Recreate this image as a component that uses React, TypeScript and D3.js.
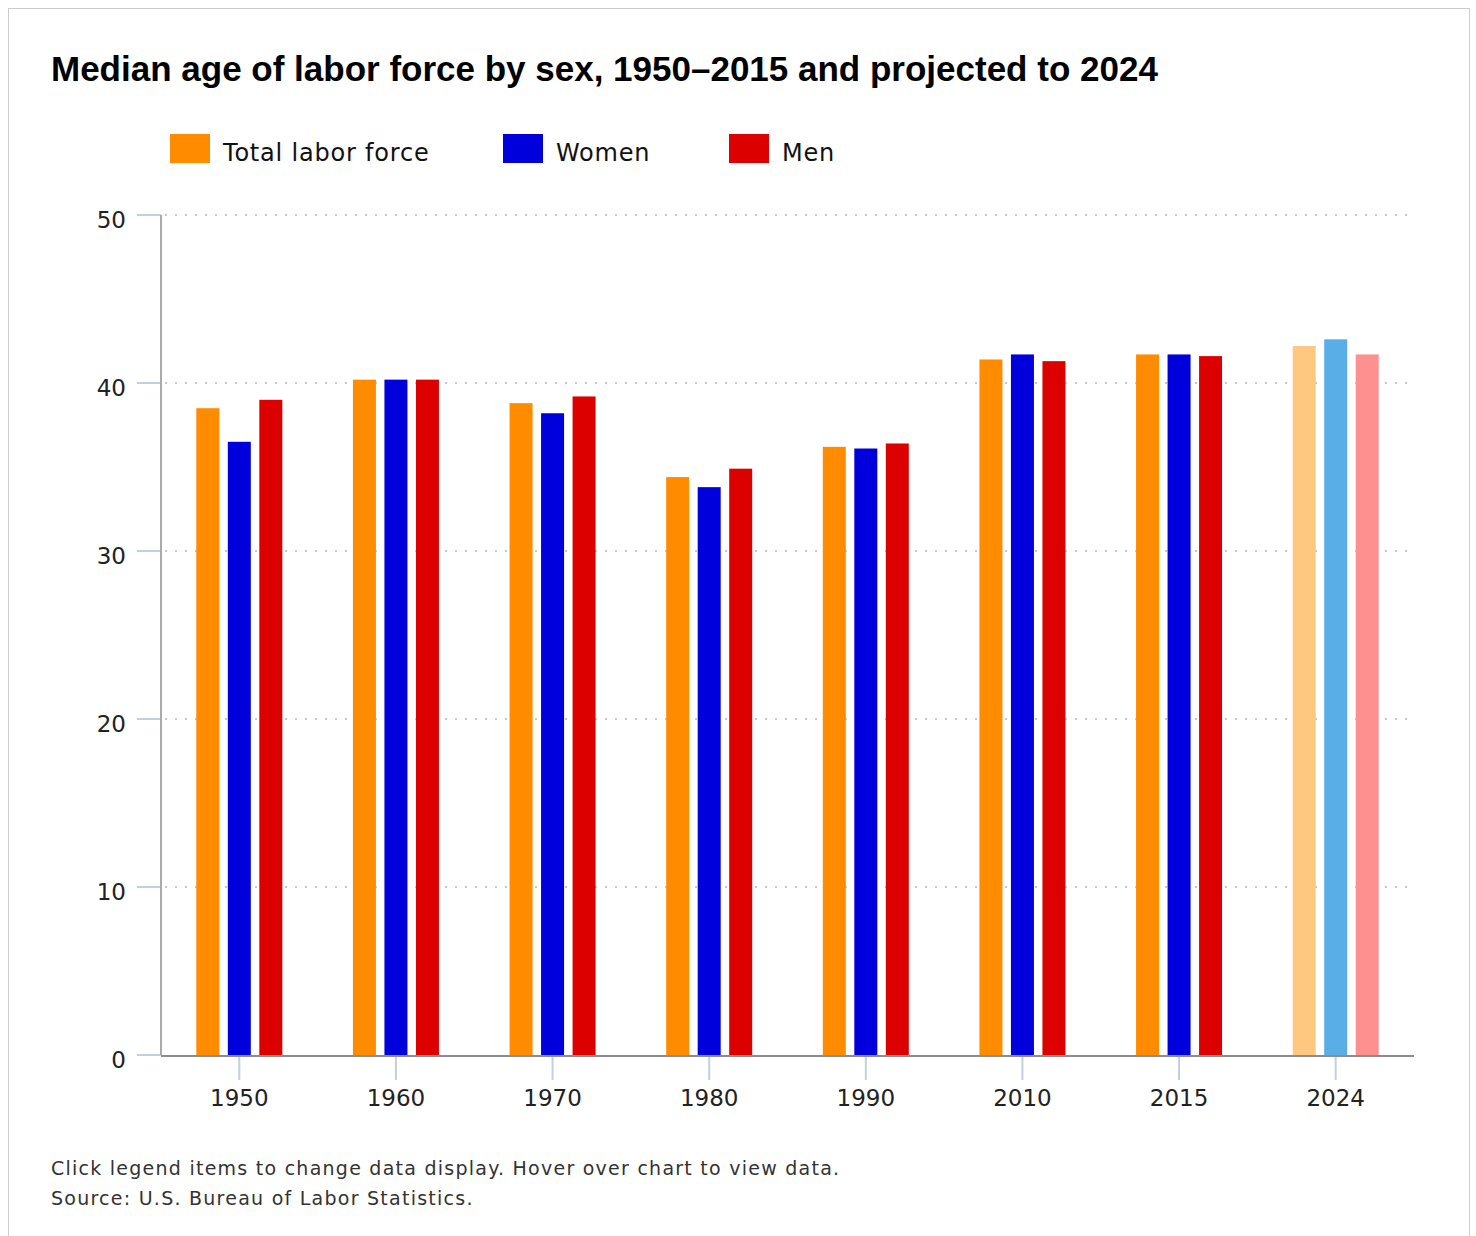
import React, { useEffect, useRef } from 'react';
import * as d3 from 'd3';

const years = ['1950', '1960', '1970', '1980', '1990', '2010', '2015', '2024'];
const seriesNames = ['Total labor force', 'Women', 'Men'];
const totalValues = [38.5, 40.2, 38.8, 34.4, 36.2, 41.4, 41.7, 42.2];
const womenValues = [36.5, 40.2, 38.2, 33.8, 36.1, 41.7, 41.7, 42.6];
const menValues = [39.0, 40.2, 39.2, 34.9, 36.4, 41.3, 41.6, 41.7];
const yTicks = [0, 10, 20, 30, 40, 50];
const projectedYear = '2024';

const colors = ['#ff8c00', '#0000dd', '#dd0000'];
const projectedColors = ['#ffc880', '#5aaee8', '#ff9090'];

export default function App() {
    const svgRef = useRef<SVGSVGElement>(null);

    useEffect(() => {
        if (!svgRef.current) return;
        const svg = d3.select(svgRef.current);
        svg.selectAll('*').remove();

        const plot = { left: 161, right: 1414, top: 215, bottom: 1055 };
        const tickFont = '"DejaVu Sans", Verdana, sans-serif';

        // outer frame
        svg.append('rect')
            .attr('x', 8.5).attr('y', 8.5)
            .attr('width', 1461).attr('height', 1260)
            .attr('fill', '#fff')
            .attr('stroke', '#cccccc');

        svg.append('text')
            .attr('x', 51).attr('y', 81)
            .attr('font-family', '"Liberation Sans", Arial, sans-serif')
            .attr('font-weight', 'bold')
            .attr('font-size', 35)
            .attr('fill', '#000')
            .text('Median age of labor force by sex, 1950–2015 and projected to 2024');

        // legend
        const legendX = [170, 503, 729];
        seriesNames.forEach((name, i) => {
            const lg = svg.append('g').attr('transform', `translate(${legendX[i]},0)`);
            lg.append('rect').attr('x', 0).attr('y', 134).attr('width', 40).attr('height', 29).attr('fill', colors[i]);
            lg.append('text')
                .attr('x', 53).attr('y', 161)
                .attr('font-family', tickFont)
                .attr('font-size', 24)
                .attr('letter-spacing', 0.8)
                .attr('fill', '#111')
                .text(name);
        });

        const x = d3.scaleBand().domain(years).range([plot.left, plot.right]).padding(0);
        const inner = d3.scaleBand().domain(seriesNames).range([-43, 43]).paddingInner(0.27);
        const y = d3.scaleLinear().domain([0, 50]).range([plot.bottom, plot.top]);

        // gridlines
        svg.append('g')
            .selectAll('line')
            .data(yTicks.filter(t => t > 0))
            .enter()
            .append('line')
            .attr('x1', 165).attr('x2', 1410)
            .attr('y1', d => y(d)).attr('y2', d => y(d))
            .attr('stroke', '#c8c8c8')
            .attr('stroke-width', 2)
            .attr('stroke-dasharray', '2,8');

        // y axis ticks + labels
        const yAxis = svg.append('g');
        yAxis.selectAll('line')
            .data(yTicks)
            .enter()
            .append('line')
            .attr('x1', 137).attr('x2', plot.left)
            .attr('y1', d => y(d)).attr('y2', d => y(d))
            .attr('stroke', '#c0d0e0')
            .attr('stroke-width', 2);
        yAxis.selectAll('text')
            .data(yTicks)
            .enter()
            .append('text')
            .attr('x', 126)
            .attr('y', d => y(d) + 13)
            .attr('text-anchor', 'end')
            .attr('font-family', tickFont)
            .attr('font-size', 23)
            .attr('fill', '#222')
            .text(d => String(d));

        // bars
        const data = [totalValues, womenValues, menValues];
        const groups = svg.append('g')
            .selectAll('g')
            .data(years)
            .enter()
            .append('g')
            .attr('transform', d => `translate(${(x(d) as number) + x.bandwidth() / 2},0)`);
        groups.selectAll('rect')
            .data(yr => seriesNames.map((s, si) => ({ yr, s, si, v: data[si][years.indexOf(yr)] })))
            .enter()
            .append('rect')
            .attr('x', d => inner(d.s) as number)
            .attr('width', inner.bandwidth())
            .attr('y', d => y(d.v))
            .attr('height', d => y(0) - y(d.v))
            .attr('fill', d => d.yr === projectedYear ? projectedColors[d.si] : colors[d.si]);

        // x axis
        const xAxis = svg.append('g');
        xAxis.selectAll('line')
            .data(years)
            .enter()
            .append('line')
            .attr('x1', d => (x(d) as number) + x.bandwidth() / 2)
            .attr('x2', d => (x(d) as number) + x.bandwidth() / 2)
            .attr('y1', plot.bottom).attr('y2', 1080)
            .attr('stroke', '#c0d0e0')
            .attr('stroke-width', 2);
        xAxis.selectAll('text')
            .data(years)
            .enter()
            .append('text')
            .attr('x', d => (x(d) as number) + x.bandwidth() / 2)
            .attr('y', 1106)
            .attr('text-anchor', 'middle')
            .attr('font-family', tickFont)
            .attr('font-size', 23)
            .attr('fill', '#222')
            .text(d => d);

        // axis lines
        svg.append('line')
            .attr('x1', plot.left).attr('x2', plot.left)
            .attr('y1', plot.top).attr('y2', plot.bottom)
            .attr('stroke', '#aaaaaa').attr('stroke-width', 2);
        svg.append('line')
            .attr('x1', plot.left).attr('x2', plot.right)
            .attr('y1', plot.bottom + 1).attr('y2', plot.bottom + 1)
            .attr('stroke', '#8c8c8c').attr('stroke-width', 2);

        // footer
        const notes = [
            'Click legend items to change data display. Hover over chart to view data.',
            'Source: U.S. Bureau of Labor Statistics.',
        ];
        svg.append('g')
            .selectAll('text')
            .data(notes)
            .enter()
            .append('text')
            .attr('x', 51)
            .attr('y', (d, i) => 1175 + i * 30)
            .attr('font-family', tickFont)
            .attr('font-size', 19)
            .attr('letter-spacing', 1.25)
            .attr('fill', '#333')
            .text(d => d);
    }, []);

    return (
        <svg
            ref={svgRef}
            width={1476}
            height={1236}
            style={{ position: 'absolute', left: 0, top: 0 }}
        />
    );
}
